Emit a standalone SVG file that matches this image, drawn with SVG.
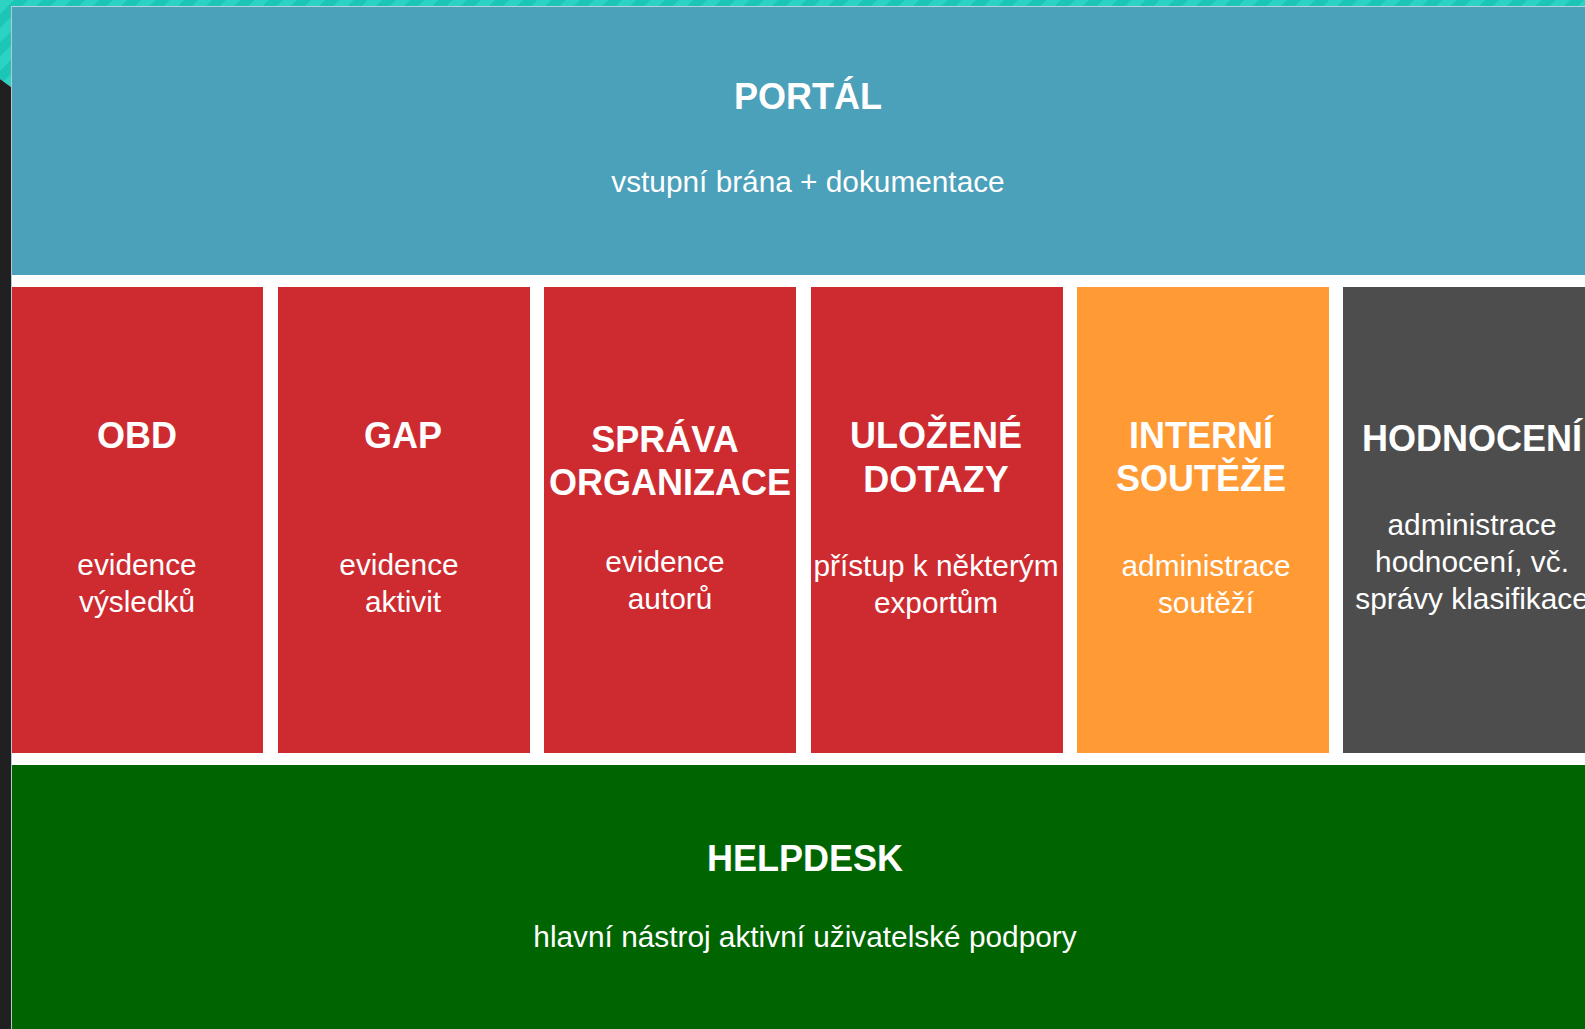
<svg xmlns="http://www.w3.org/2000/svg" width="1585" height="1029" viewBox="0 0 1585 1029">
<defs>
<pattern id="stripes" patternUnits="userSpaceOnUse" width="20" height="20" patternTransform="rotate(45)">
<rect width="20" height="20" fill="#1cc6b6"/>
<rect width="10" height="20" fill="#2cd2c4"/>
</pattern>
</defs>
<style>
.t{font-family:"Liberation Sans",Arial,sans-serif;font-weight:bold;font-size:36px;fill:#ffffff;text-anchor:middle}
.s{font-family:"Liberation Sans",Arial,sans-serif;font-size:29.8px;fill:#ffffff;text-anchor:middle}
.red{fill:#ce2b31}
</style>
<rect x="0" y="0" width="1585" height="1029" fill="#ffffff"/>
<rect x="0" y="0" width="1585" height="7" fill="url(#stripes)"/>
<polygon points="0,0 11,0 11,87 0,79" fill="url(#stripes)"/>
<polygon points="0,79 11,87 11,1029 0,1029" fill="#202020"/>
<g id="portal">
<rect x="11" y="6" width="1574" height="269" fill="#4ba0ba"/>
<text class="t" x="808" y="109">PORTÁL</text>
<text class="s" x="808" y="192">vstupní brána + dokumentace</text>
</g>
<g id="obd">
<rect class="red" x="11" y="287" width="252" height="466"/>
<text class="t" x="137" y="448">OBD</text>
<text class="s" x="137" y="575">evidence</text>
<text class="s" x="137" y="612">výsledků</text>
</g>
<g id="gap">
<rect class="red" x="278" y="287" width="252" height="466"/>
<text class="t" x="403" y="448">GAP</text>
<text class="s" x="399" y="575">evidence</text>
<text class="s" x="403" y="612">aktivit</text>
</g>
<g id="sprava-organizace">
<rect class="red" x="544" y="287" width="252" height="466"/>
<text class="t" x="665" y="452">SPRÁVA</text>
<text class="t" x="670" y="495">ORGANIZACE</text>
<text class="s" x="665" y="572">evidence</text>
<text class="s" x="670" y="609">autorů</text>
</g>
<g id="ulozene-dotazy">
<rect class="red" x="811" y="287" width="252" height="466"/>
<text class="t" x="936" y="448">ULOŽENÉ</text>
<text class="t" x="936" y="492">DOTAZY</text>
<text class="s" x="936" y="576">přístup k některým</text>
<text class="s" x="936" y="613">exportům</text>
</g>
<g id="interni-souteze">
<rect x="1077" y="287" width="252" height="466" fill="#ff9a35"/>
<text class="t" x="1201" y="448">INTERNÍ</text>
<text class="t" x="1201" y="491">SOUTĚŽE</text>
<text class="s" x="1206" y="576">administrace</text>
<text class="s" x="1206" y="613">soutěží</text>
</g>
<g id="hodnoceni">
<rect x="1343" y="287" width="242" height="466" fill="#4d4d4d"/>
<text class="t" x="1472" y="451">HODNOCENÍ</text>
<text class="s" x="1472" y="535">administrace</text>
<text class="s" x="1472" y="572">hodnocení, vč.</text>
<text class="s" x="1472" y="609">správy klasifikace</text>
</g>
<g id="helpdesk">
<rect x="11" y="765" width="1574" height="264" fill="#006400"/>
<text class="t" x="805" y="871">HELPDESK</text>
<text class="s" x="805" y="947">hlavní nástroj aktivní uživatelské podpory</text>
</g>
<g id="connectors"/>
<line x1="11.5" y1="6" x2="11.5" y2="1029" stroke="#b8c8cc" stroke-width="1"/>
<line x1="11" y1="6.5" x2="1585" y2="6.5" stroke="#b8d0d8" stroke-width="1"/>
</svg>
